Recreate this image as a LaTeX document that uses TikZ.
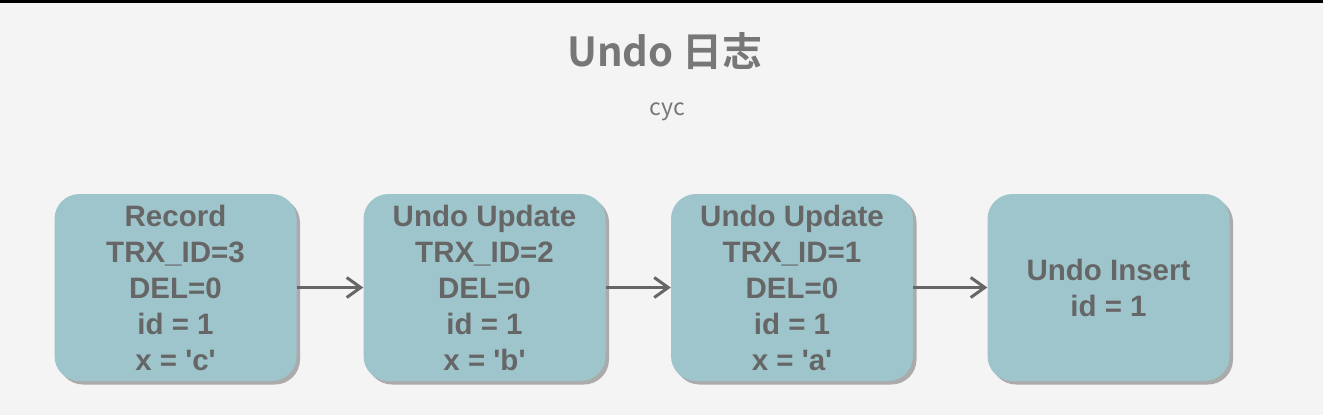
\documentclass[tikz,border=0pt]{standalone}
\usepackage{fontspec}
\setmainfont{Liberation Sans}
\newfontfamily\cjk{Noto Sans CJK SC}[BoldFont={Noto Sans CJK SC Bold}]
\usetikzlibrary{arrows.meta}
\definecolor{bg}{HTML}{F4F4F4}
\definecolor{boxfill}{HTML}{9EC5CC}
\definecolor{txt}{HTML}{666666}
\definecolor{ttl}{HTML}{777777}
\definecolor{shd}{HTML}{ABABAB}
\newcommand{\sq}{\textquotesingle}
\tikzset{
  recbox/.style={fill=boxfill, rounded corners=25pt, minimum width=242pt, minimum height=187pt,
    align=center, text=txt, font=\bfseries\fontsize{29.5}{36}\selectfont, inner sep=0pt},
  shadowbox/.style={fill=shd, rounded corners=25pt, minimum width=242pt, minimum height=187pt, inner sep=0pt},
  link/.style={draw=txt, line width=3pt, -{Straight Barb[length=14pt,width=20pt,line width=3pt]}}
}
\begin{document}
\begin{tikzpicture}[x=1pt,y=-1pt]
\fill[bg] (0,0) rectangle (1323,415);
\fill[black] (0,0) rectangle (1323,2.5);
\useasboundingbox (0,0) rectangle (1323,415);
\node[text=ttl, font=\cjk\bfseries\fontsize{40}{42}\selectfont] (title) at (665,51) {Undo 日志};
\node[text=ttl, font=\cjk\fontsize{23}{26}\selectfont] (sub) at (667,112) {cyc};
\foreach \x in {175.5,484.5,792,1108.5}{
  \node[shadowbox] at (\x+3.5,291) {};
}
\node[recbox] (r) at (175.5,287.5) {Record\\TRX\_ID=3\\DEL=0\\id = 1\\x = \sq c\sq};
\node[recbox] (u2) at (484.5,287.5) {Undo Update\\TRX\_ID=2\\DEL=0\\id = 1\\x = \sq b\sq};
\node[recbox] (u1) at (792,287.5) {Undo Update\\TRX\_ID=1\\DEL=0\\id = 1\\x = \sq a\sq};
\node[recbox] (ins) at (1108.5,287.5) {Undo Insert\\id = 1};
\draw[link] (r.east) -- (u2.west);
\draw[link] (u2.east) -- (u1.west);
\draw[link] (u1.east) -- (ins.west);
\end{tikzpicture}
\end{document}
